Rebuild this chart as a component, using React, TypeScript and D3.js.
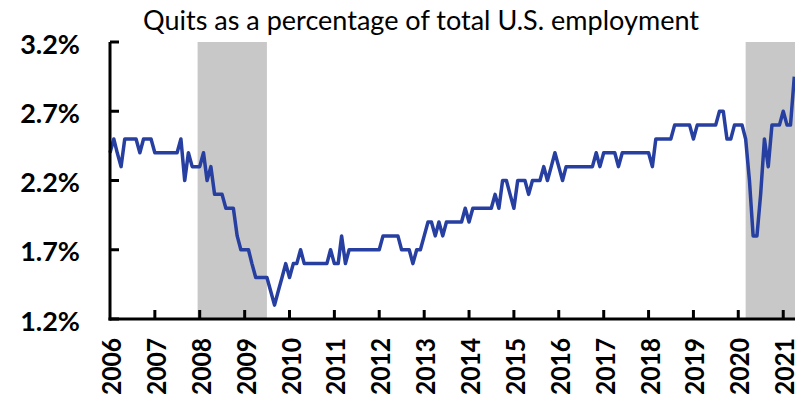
import React from 'react';
import * as d3 from 'd3';

// monthly quits rate (%), starting Jan 2006
const startMonth = new Date(2006, 0, 1);
const quitsRate = [
  2.4, 2.5, 2.4, 2.3, 2.5, 2.5, 2.5, 2.5, 2.4, 2.5, 2.5, 2.5, // 2006
  2.4, 2.4, 2.4, 2.4, 2.4, 2.4, 2.4, 2.5, 2.2, 2.4, 2.3, 2.3, // 2007
  2.3, 2.4, 2.2, 2.3, 2.1, 2.1, 2.1, 2.0, 2.0, 2.0, 1.8, 1.7, // 2008
  1.7, 1.7, 1.6, 1.5, 1.5, 1.5, 1.5, 1.4, 1.3, 1.4, 1.5, 1.6, // 2009
  1.5, 1.6, 1.6, 1.7, 1.6, 1.6, 1.6, 1.6, 1.6, 1.6, 1.6, 1.7, // 2010
  1.6, 1.6, 1.8, 1.6, 1.7, 1.7, 1.7, 1.7, 1.7, 1.7, 1.7, 1.7, // 2011
  1.7, 1.8, 1.8, 1.8, 1.8, 1.8, 1.7, 1.7, 1.7, 1.6, 1.7, 1.7, // 2012
  1.8, 1.9, 1.9, 1.8, 1.9, 1.8, 1.9, 1.9, 1.9, 1.9, 1.9, 2.0, // 2013
  1.9, 2.0, 2.0, 2.0, 2.0, 2.0, 2.0, 2.1, 2.0, 2.2, 2.2, 2.1, // 2014
  2.0, 2.2, 2.2, 2.2, 2.1, 2.2, 2.2, 2.2, 2.3, 2.2, 2.3, 2.4, // 2015
  2.3, 2.2, 2.3, 2.3, 2.3, 2.3, 2.3, 2.3, 2.3, 2.3, 2.4, 2.3, // 2016
  2.4, 2.4, 2.4, 2.4, 2.3, 2.4, 2.4, 2.4, 2.4, 2.4, 2.4, 2.4, // 2017
  2.4, 2.3, 2.5, 2.5, 2.5, 2.5, 2.5, 2.6, 2.6, 2.6, 2.6, 2.6, // 2018
  2.5, 2.6, 2.6, 2.6, 2.6, 2.6, 2.6, 2.7, 2.7, 2.5, 2.5, 2.6, // 2019
  2.6, 2.6, 2.5, 2.2, 1.8, 1.8, 2.1, 2.5, 2.3, 2.6, 2.6, 2.6, // 2020
  2.7, 2.6, 2.6, 2.95, // 2021
];

// shaded recession periods
const recessionStarts = [new Date(2007, 11, 15), new Date(2020, 2, 1)];
const recessionEnds = [new Date(2009, 6, 1), new Date(2021, 6, 1)];

const yTicks = [1.2, 1.7, 2.2, 2.7, 3.2];
const years = d3.range(2006, 2022);
const title = 'Quits as a percentage of total U.S. employment';

const width = 795;
const height = 403;

export default function App() {
  const lastMonth = d3.timeMonth.offset(startMonth, quitsRate.length - 1);
  const x = d3.scaleTime().domain([startMonth, lastMonth]).range([110, 794.3]);
  const y = d3.scaleLinear().domain([1.2, 3.2]).range([319, 42]);

  const points = quitsRate.map((v, i) => [d3.timeMonth.offset(startMonth, i), v] as [Date, number]);
  const line = d3.line<[Date, number]>()
    .x(d => x(d[0]))
    .y(d => y(d[1]));

  const font = 'Lato, "Open Sans", sans-serif';

  return (
    <svg width={width} height={height} style={{ position: 'absolute', left: 0, top: 0, background: '#fff' }}>
      {recessionStarts.map((s, i) => (
        <rect key={i} x={x(s)} y={y(3.2)} width={x(recessionEnds[i]) - x(s)} height={y(1.2) - y(3.2)} fill="#c8c8c8" />
      ))}

      <path d={line(points) || ''} fill="none" stroke="#263fa0" strokeWidth={3.5} strokeLinejoin="round" />

      {/* axes */}
      <line x1={110} x2={110} y1={y(3.2)} y2={y(1.2) + 1.5} stroke="#000" strokeWidth={3} />
      <line x1={108.5} x2={width} y1={y(1.2)} y2={y(1.2)} stroke="#000" strokeWidth={3} />
      {yTicks.map(t => (
        <g key={t}>
          <line x1={110} x2={119} y1={y(t)} y2={y(t)} stroke="#000" strokeWidth={3} />
          <text x={80} y={y(t) + 1} textAnchor="end" dominantBaseline="central"
            fontFamily={font} fontWeight="bold" fontSize={27} fill="#000">
            {t.toFixed(1)}%
          </text>
        </g>
      ))}
      {years.map(yr => {
        const tx = x(new Date(yr, 0, 1));
        return (
          <g key={yr}>
            {yr > 2006 && <line x1={tx} x2={tx} y1={y(1.2)} y2={y(1.2) - 9} stroke="#000" strokeWidth={3} />}
            <text transform={`translate(${tx + 1},338) rotate(-90)`} textAnchor="end" dominantBaseline="central"
              fontFamily={font} fontWeight="bold" fontSize={26} textLength={57} lengthAdjust="spacingAndGlyphs" fill="#000">
              {yr}
            </text>
          </g>
        );
      })}

      <text x={421} y={20} textAnchor="middle" dominantBaseline="central"
        fontFamily={font} fontSize={26} textLength={556} lengthAdjust="spacingAndGlyphs" fill="#000">
        {title}
      </text>
    </svg>
  );
}
